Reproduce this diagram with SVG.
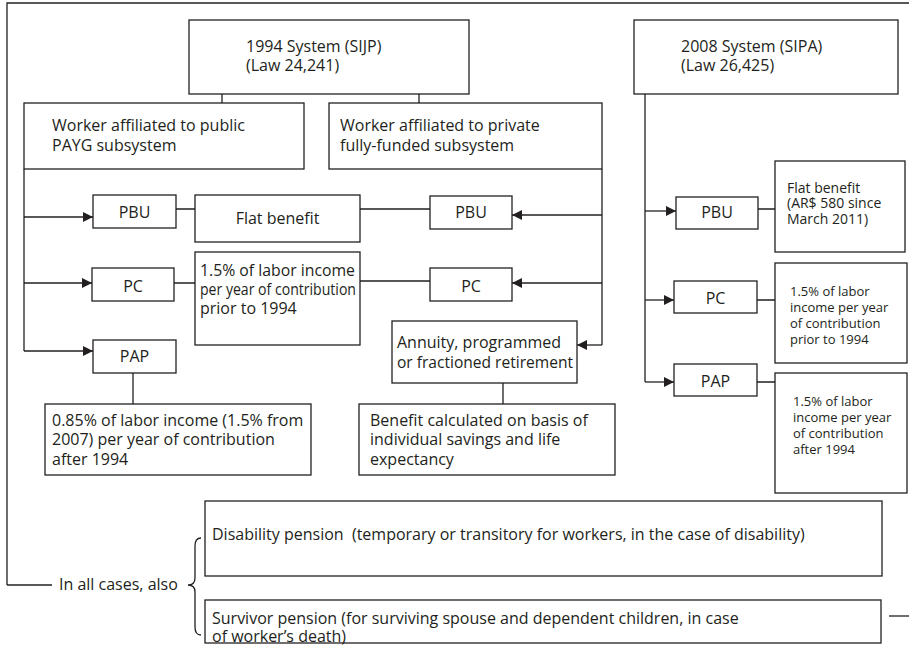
<svg xmlns="http://www.w3.org/2000/svg" width="909" height="645" viewBox="0 0 909 645">
<style>
  .b{fill:#fff;stroke:#231f20;stroke-width:1.3}
  .l{fill:none;stroke:#231f20;stroke-width:1.3}
  text{font-family:"Open Sans","Noto Sans",sans-serif;fill:#231f20;font-size:16px}
  .s{font-size:14px}
  .t{font-size:13px}
  .c{text-anchor:middle}
</style>
<defs>
  <marker id="ar" markerUnits="userSpaceOnUse" markerWidth="12" markerHeight="12" refX="10" refY="5" orient="auto">
    <path d="M0,0 L10,5 L0,10 Z" fill="#231f20"/>
  </marker>
</defs>
<rect width="909" height="645" fill="#fff"/>
<g id="connectors">
  <path class="l" d="M7,585 L7,3 L909,3"/>
  <path class="l" d="M7,585 L52,585"/>
  <path class="l" d="M222,94 V103 M419,94 V103"/>
  <path class="l" d="M24,169 V351"/>
  <path class="l" d="M24,217 H93" marker-end="url(#ar)"/>
  <path class="l" d="M24,283 H92" marker-end="url(#ar)"/>
  <path class="l" d="M24,351 H93" marker-end="url(#ar)"/>
  <path class="l" d="M176,209 H195 M360,209 H430"/>
  <path class="l" d="M174,283 H195 M360,281 H430"/>
  <path class="l" d="M602,169 V345"/>
  <path class="l" d="M602,215 H512" marker-end="url(#ar)"/>
  <path class="l" d="M602,283 H512" marker-end="url(#ar)"/>
  <path class="l" d="M602,345 H577" marker-end="url(#ar)"/>
  <path class="l" d="M503,383 V404 M133,373 V404"/>
  <path class="l" d="M645,94 V382"/>
  <path class="l" d="M645,211 H676" marker-end="url(#ar)"/>
  <path class="l" d="M645,300 H674" marker-end="url(#ar)"/>
  <path class="l" d="M645,382 H674" marker-end="url(#ar)"/>
  <path class="l" d="M758,209 H775 M757,300 H777 M757,382 H775"/>
  <path class="l" d="M889,616 H909"/>
  <path class="l" d="M201,538 Q195,538 195,546 V578 Q195,585 188,585 Q195,585 195,592 V627 Q195,635 201,635"/>
</g>
<g id="sys1994"><rect class="b" x="189" y="20" width="280" height="74"/><text x="246" y="52">1994 System (SIJP)</text><text x="246" y="71">(Law 24,241)</text></g>
<g id="sys2008"><rect class="b" x="634" y="20" width="264" height="74"/><text x="681" y="52">2008 System (SIPA)</text><text x="681" y="71">(Law 26,425)</text></g>
<g id="public"><rect class="b" x="24" y="103" width="280" height="66"/><text x="52" y="131">Worker affiliated to public</text><text x="52" y="151">PAYG subsystem</text></g>
<g id="private"><rect class="b" x="329" y="103" width="273" height="66"/><text x="340" y="131">Worker affiliated to private</text><text x="340" y="151">fully-funded subsystem</text></g>
<g id="pbuL"><rect class="b" x="93" y="195" width="83" height="33"/><text class="c" x="134.5" y="218">PBU</text></g>
<g id="flat"><rect class="b" x="195" y="195" width="165" height="47"/><text class="c" x="277.5" y="224">Flat benefit</text></g>
<g id="pbuR"><rect class="b" x="430" y="196" width="82" height="33"/><text class="c" x="471" y="218">PBU</text></g>
<g id="pcL"><rect class="b" x="92" y="268" width="82" height="33"/><text class="c" x="133" y="292">PC</text></g>
<g id="pcText"><rect class="b" x="195" y="252" width="165" height="93"/><text x="200" y="276" textLength="155" lengthAdjust="spacingAndGlyphs">1.5% of labor income</text><text x="200" y="295" textLength="156" lengthAdjust="spacingAndGlyphs">per year of contribution</text><text x="200" y="314">prior to 1994</text></g>
<g id="pcR"><rect class="b" x="430" y="268" width="82" height="33"/><text class="c" x="471" y="292">PC</text></g>
<g id="papL"><rect class="b" x="93" y="340" width="83" height="33"/><text class="c" x="134.5" y="362">PAP</text></g>
<g id="annuity"><rect class="b" x="392" y="321" width="185" height="62"/><text x="397" y="348">Annuity, programmed</text><text x="397" y="368" textLength="176" lengthAdjust="spacingAndGlyphs">or fractioned retirement</text></g>
<g id="papText"><rect class="b" x="45" y="404" width="266" height="71"/><text x="52" y="426">0.85% of labor income (1.5% from</text><text x="52" y="445">2007) per year of contribution</text><text x="52" y="465">after 1994</text></g>
<g id="benefit"><rect class="b" x="359" y="404" width="256" height="71"/><text x="370" y="426">Benefit calculated on basis of</text><text x="370" y="445">individual savings and life</text><text x="370" y="465">expectancy</text></g>
<g id="pbu08"><rect class="b" x="676" y="197" width="82" height="32"/><text class="c" x="717" y="218">PBU</text></g>
<g id="flat08"><rect class="b" x="775" y="161" width="130" height="91"/><text class="s" x="787" y="193">Flat benefit</text><text class="s" x="787" y="208">(AR$ 580 since</text><text class="s" x="787" y="224">March 2011)</text></g>
<g id="pc08"><rect class="b" x="674" y="281" width="83" height="32"/><text class="c" x="715.5" y="304">PC</text></g>
<g id="pcText08"><rect class="b" x="775" y="263" width="132" height="100"/><text class="t" x="790" y="296">1.5% of labor</text><text class="t" x="790" y="312">income per year</text><text class="t" x="790" y="328">of contribution</text><text class="t" x="790" y="344">prior to 1994</text></g>
<g id="pap08"><rect class="b" x="674" y="364" width="83" height="32"/><text class="c" x="715.5" y="387">PAP</text></g>
<g id="papText08"><rect class="b" x="775" y="373" width="132" height="120"/><text class="t" x="793" y="406">1.5% of labor</text><text class="t" x="793" y="422">income per year</text><text class="t" x="793" y="438">of contribution</text><text class="t" x="793" y="454">after 1994</text></g>
<g id="allcases"><text x="59" y="590">In all cases, also</text></g>
<g id="disability"><rect class="b" x="205" y="501" width="677" height="75"/><text x="212" y="540" xml:space="preserve">Disability pension  (temporary or transitory for workers, in the case of disability)</text></g>
<g id="survivor"><rect class="b" x="205" y="600" width="676" height="43"/><text x="212" y="624">Survivor pension (for surviving spouse and dependent children, in case</text><text x="212" y="642">of worker’s death)</text></g>
</svg>
